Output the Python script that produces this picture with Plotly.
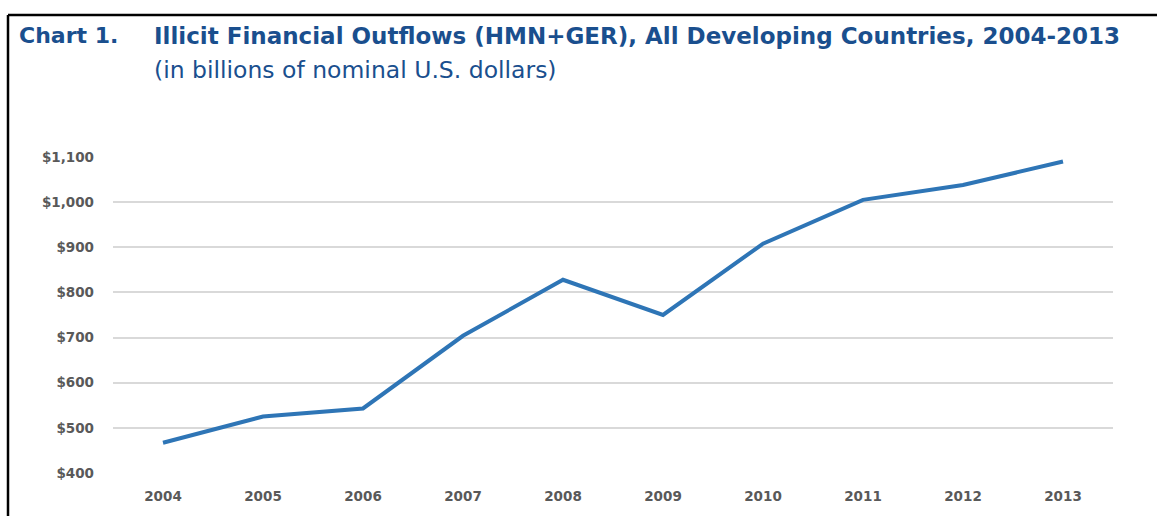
import plotly.graph_objects as go

years = ["2004", "2005", "2006", "2007", "2008", "2009", "2010", "2011", "2012", "2013"]
outflows = [467, 525, 543, 704, 828, 750, 908, 1005, 1038, 1090]
y_ticks = [400, 500, 600, 700, 800, 900, 1000, 1100]
y_tick_labels = ["$400", "$500", "$600", "$700", "$800", "$900", "$1,000", "$1,100"]

W, H = 1157, 516
L, R, T, B = 113, 44, 157, 41
pw, ph = W - L - R, H - T - B

def px(x):
    return (x - L) / pw

def py(y):
    return (H - B - y) / ph

fig = go.Figure()
fig.add_trace(go.Scatter(
    x=years, y=outflows, mode="lines",
    line=dict(color="#2e75b6", width=4),
    hoverinfo="x+y", showlegend=False,
))

title_blue = "#1a4f8e"
tick_font = dict(family="DejaVu Sans, sans-serif", size=13.5, color="#595959", weight="bold")
fig.update_layout(
    width=W, height=H,
    margin=dict(l=L, r=R, t=T, b=B, pad=0),
    paper_bgcolor="white", plot_bgcolor="white",
    xaxis=dict(
        type="category", range=[-0.5, 9.5], showgrid=False, zeroline=False, showline=False,
        ticks="", tickfont=tick_font, ticklabelstandoff=13,
    ),
    yaxis=dict(
        range=[400, 1100], tickvals=y_ticks, ticktext=y_tick_labels,
        showgrid=True, gridcolor="#d9d9d9", gridwidth=1.5, zeroline=False,
        showline=False, ticks="", tickfont=tick_font, ticklabelstandoff=18,
    ),
    shapes=[
        dict(type="line", xref="paper", yref="paper", x0=px(8), x1=px(W + 5), y0=py(14), y1=py(14),
             line=dict(color="black", width=2.5)),
        dict(type="line", xref="paper", yref="paper", x0=px(8), x1=px(8), y0=py(14), y1=py(H + 5),
             line=dict(color="black", width=2.5)),
    ],
    annotations=[
        dict(text="<b>Chart 1.</b>", xref="paper", yref="paper", x=px(17), y=py(35),
             xanchor="left", yanchor="middle", showarrow=False,
             font=dict(family="DejaVu Sans, sans-serif", size=22, color=title_blue)),
        dict(text="<b>Illicit Financial Outflows (HMN+GER), All Developing Countries, 2004-2013</b>",
             xref="paper", yref="paper", x=px(152), y=py(35),
             xanchor="left", yanchor="middle", showarrow=False,
             font=dict(family="DejaVu Sans, sans-serif", size=23, color=title_blue)),
        dict(text="(in billions of nominal U.S. dollars)",
             xref="paper", yref="paper", x=px(152), y=py(69),
             xanchor="left", yanchor="middle", showarrow=False,
             font=dict(family="DejaVu Sans, sans-serif", size=23.5, color=title_blue)),
    ],
)

fig.write_html("out.html", config={"displayModeBar": False},
               post_script="document.body.style.margin='0';")
